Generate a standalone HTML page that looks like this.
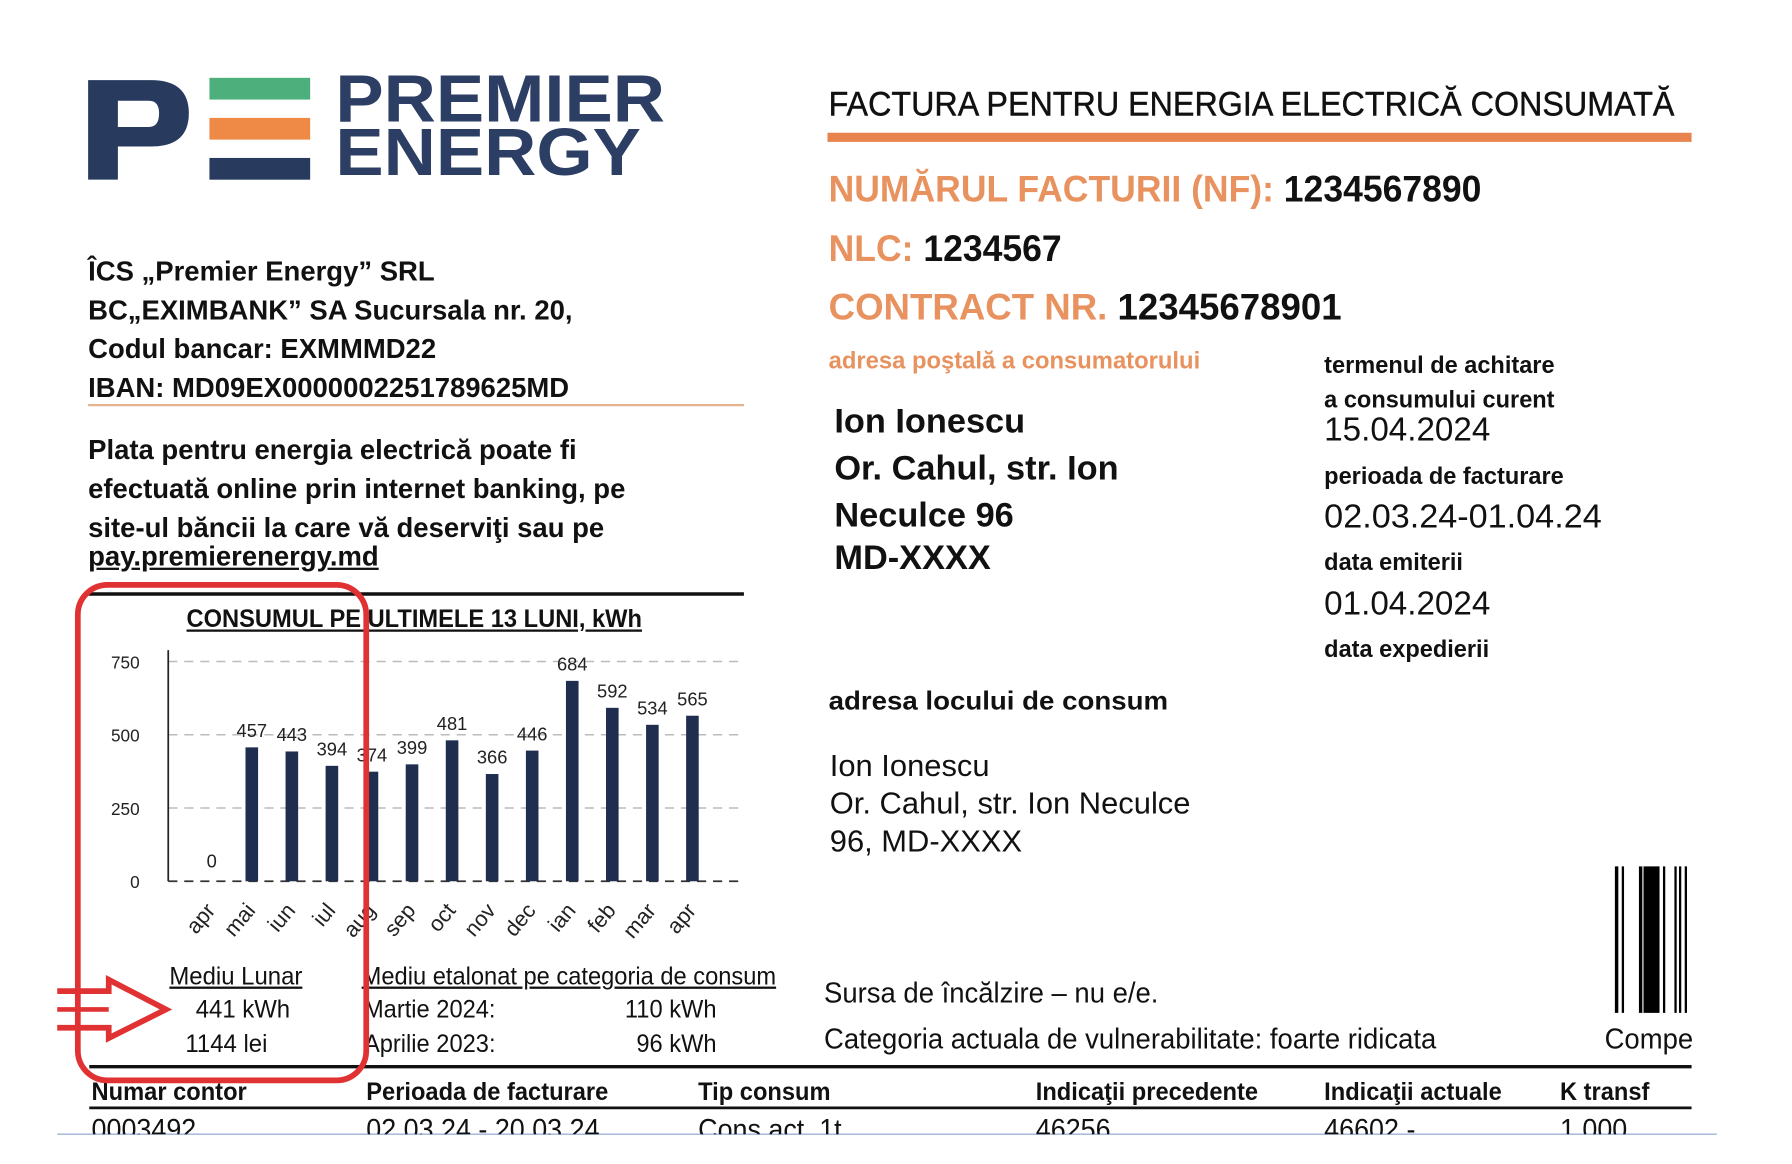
<!DOCTYPE html>
<html><head><meta charset="utf-8">
<style>
html,body{margin:0;padding:0;background:#fff;width:1792px;height:1164px;overflow:hidden}
#wrap{position:absolute;left:0;top:0;width:1566px;height:1017px;transform:scale(1.1445);transform-origin:0 0;font-family:"Liberation Sans",sans-serif;color:#111}
.t{position:absolute;white-space:nowrap;line-height:1;transform-origin:0 50%}
.b{font-weight:bold}
.o{color:#e8925f}
</style></head><body>
<div id="wrap">
<svg style="position:absolute;left:0;top:0" width="1566" height="1017">
 <g>
  <path d="M77 70 H132 Q165 70 165 99 Q165 128 132 128 H103 V157 H77 Z M103 88 V111 H130 Q139 111 139 99 Q139 88 130 88 Z" fill="#283a5e" fill-rule="evenodd"/>
  <rect x="183" y="68" width="88" height="19" fill="#4caf7c"/>
  <rect x="183" y="103" width="88" height="19" fill="#ee8a46"/>
  <rect x="183" y="138" width="88" height="19" fill="#283a5e"/>
 </g>
 <line x1="723" y1="120" x2="1478" y2="120" stroke="#e8834e" stroke-width="8"/>
 <line x1="77" y1="354" x2="650" y2="354" stroke="#e3b48f" stroke-width="2"/>
 <line x1="77" y1="519" x2="650" y2="519" stroke="#111" stroke-width="3"/>
 <line x1="78" y1="932" x2="1478" y2="932" stroke="#111" stroke-width="3"/>
 <line x1="78" y1="968" x2="1478" y2="968" stroke="#111" stroke-width="2.5"/>
 <line x1="50" y1="991" x2="1500" y2="991" stroke="#9fb3d6" stroke-width="1.2"/>
 <g fill="#000">
  <rect x="1411" y="757" width="3" height="128"/><rect x="1417" y="757" width="2" height="128"/>
  <rect x="1432" y="757" width="3" height="128"/><rect x="1436" y="757" width="14" height="128"/>
  <rect x="1453" y="757" width="2" height="128"/><rect x="1463" y="757" width="2" height="128"/>
  <rect x="1467" y="757" width="2" height="128"/><rect x="1472" y="757" width="2" height="128"/>
 </g>
</svg>
<div class="t b" style="left:293px;top:58px;font-size:58px;color:#2c3e63;transform:scaleX(1.09)">PREMIER</div>
<div class="t b" style="left:293px;top:105px;font-size:58px;color:#2c3e63;transform:scaleX(1.09)">ENERGY</div>

<div class="t" style="left:724px;top:77px;font-size:30px;transform:scaleX(.94);-webkit-text-stroke:.4px #111">FACTURA PENTRU ENERGIA ELECTRICĂ CONSUMATĂ</div>
<div class="t b" style="left:724px;top:149px;font-size:32px;transform:scaleX(.97)"><span class="o">NUMĂRUL FACTURII (NF):</span> 1234567890</div>
<div class="t b" style="left:724px;top:201px;font-size:32px;transform:scaleX(.97)"><span class="o">NLC:</span> 1234567</div>
<div class="t b" style="left:724px;top:252px;font-size:32px;transform:scaleX(1.0)"><span class="o">CONTRACT NR.</span> 12345678901</div>
<div class="t b o" style="left:724px;top:305px;font-size:21px;transform:scaleX(.99)">adresa poştală a consumatorului</div>
<div class="t b" style="left:729px;top:350px;font-size:30px;line-height:37px;transform:scaleX(1.0)">Ion Ionescu<br><span style="line-height:45px">Or. Cahul, str. Ion</span><br>Neculce 96<br>MD-XXXX</div>

<div class="t b" style="left:1157px;top:305px;font-size:21px;line-height:30px;transform:scaleX(.98)">termenul de achitare<br>a consumului curent</div>
<div class="t" style="left:1157px;top:362px;font-size:29px;transform:scaleX(1.0)">15.04.2024</div>
<div class="t b" style="left:1157px;top:406px;font-size:21px;transform:scaleX(.98)">perioada de facturare</div>
<div class="t" style="left:1157px;top:438px;font-size:29px;transform:scaleX(1.03)">02.03.24-01.04.24</div>
<div class="t b" style="left:1157px;top:481px;font-size:21px;transform:scaleX(.98)">data emiterii</div>
<div class="t" style="left:1157px;top:514px;font-size:29px;transform:scaleX(1.0)">01.04.2024</div>
<div class="t b" style="left:1157px;top:557px;font-size:21px;transform:scaleX(.98)">data expedierii</div>

<div class="t b" style="left:724px;top:601px;font-size:23px;transform:scaleX(1.05)">adresa locului de consum</div>
<div class="t" style="left:725px;top:653px;font-size:27px;line-height:33px;transform:scaleX(1.0)">Ion Ionescu<br>Or. Cahul, str. Ion Neculce<br>96, MD-XXXX</div>

<div class="t" style="left:720px;top:856px;font-size:25px;transform:scaleX(.96)">Sursa de încălzire – nu e/e.</div>
<div class="t" style="left:720px;top:896px;font-size:25px;transform:scaleX(.96)">Categoria actuala de vulnerabilitate: foarte ridicata</div>
<div class="t" style="left:1402px;top:896px;font-size:25px;transform:scaleX(.96)">Compe</div>

<div class="t b" style="left:77px;top:221px;font-size:24px;line-height:34px;transform:scaleX(1.0)">ÎCS „Premier Energy” SRL<br>BC„EXIMBANK” SA Sucursala nr. 20,<br>Codul bancar: EXMMMD22<br>IBAN: MD09EX0000002251789625MD</div>
<div class="t b" style="left:77px;top:377px;font-size:24px;line-height:34px;transform:scaleX(1.0)">Plata pentru energia electrică poate fi<br>efectuată online prin internet banking, pe<br>site-ul băncii la care vă deserviţi sau pe</div>
<div class="t b" style="left:77px;top:475px;font-size:24px;text-decoration:underline;transform:scaleX(1.0)">pay.premierenergy.md</div>

<div class="t b" style="left:163px;top:530px;font-size:22px;text-decoration:underline;transform:scaleX(.94)">CONSUMUL PE ULTIMELE 13 LUNI, kWh</div>
<svg id="chart" style="position:absolute;left:0;top:0" width="700" height="1017"></svg>

<div class="t" style="left:148px;top:842px;font-size:22px;text-decoration:underline;transform:scaleX(.95)">Mediu Lunar</div>
<div class="t" style="left:171px;top:871px;font-size:22px;transform:scaleX(.95)">441 kWh</div>
<div class="t" style="left:162px;top:901px;font-size:22px;transform:scaleX(.95)">1144 lei</div>
<div class="t" style="left:316px;top:842px;font-size:22px;text-decoration:underline;transform:scaleX(.94)">Mediu etalonat pe categoria de consum</div>
<div class="t" style="left:318px;top:871px;font-size:22px;transform:scaleX(.94)">Martie 2024:</div>
<div class="t" style="left:546px;top:871px;font-size:22px;transform:scaleX(.94)">110 kWh</div>
<div class="t" style="left:318px;top:901px;font-size:22px;transform:scaleX(.94)">Aprilie 2023:</div>
<div class="t" style="left:556px;top:901px;font-size:22px;transform:scaleX(.94)">96 kWh</div>

<div style="position:absolute;left:0;top:975px;width:1566px;height:16px;overflow:hidden">
 <div class="t" style="left:80px;top:0;font-size:25px;transform:scaleX(.94)">0003492</div>
 <div class="t" style="left:320px;top:0;font-size:25px;transform:scaleX(.94)">02.03.24 - 20.03.24</div>
 <div class="t" style="left:610px;top:0;font-size:25px;transform:scaleX(.94)">Cons.act. 1t</div>
 <div class="t" style="left:905px;top:0;font-size:25px;transform:scaleX(.94)">46256</div>
 <div class="t" style="left:1157px;top:0;font-size:25px;transform:scaleX(.94)">46602 -</div>
 <div class="t" style="left:1363px;top:0;font-size:25px;transform:scaleX(.94)">1.000</div>
</div>
<div class="t b" style="left:80px;top:943px;font-size:22px;transform:scaleX(.94)">Numar contor</div>
<div class="t b" style="left:320px;top:943px;font-size:22px;transform:scaleX(.94)">Perioada de facturare</div>
<div class="t b" style="left:610px;top:943px;font-size:22px;transform:scaleX(.94)">Tip consum</div>
<div class="t b" style="left:905px;top:943px;font-size:22px;transform:scaleX(.94)">Indicaţii precedente</div>
<div class="t b" style="left:1157px;top:943px;font-size:22px;transform:scaleX(.94)">Indicaţii actuale</div>
<div class="t b" style="left:1363px;top:943px;font-size:22px;transform:scaleX(.94)">K transf</div>

<svg style="position:absolute;left:0;top:0" width="700" height="1017">
 <rect x="68" y="511" width="252" height="433" rx="26" fill="none" stroke="#e03232" stroke-width="5"/>
 <path d="M50 866 H95 V856 L145 882 L95 907 V898 H50" fill="none" stroke="#e03232" stroke-width="5" stroke-linejoin="miter"/>
 <line x1="50" y1="882" x2="95" y2="882" stroke="#e03232" stroke-width="4"/>
</svg>
</div>
<script>
const months=["apr","mai","iun","iul","aug","sep","oct","nov","dec","ian","feb","mar","apr"];
const values=[0,457,443,394,374,399,481,366,446,684,592,534,565];
const yTicks=[0,250,500,750];
const svg=document.getElementById('chart');
const NS='http://www.w3.org/2000/svg';
const x0=147,x1=645,yZero=770,yTop=578,yMax=750;
const ys=v=>yZero-(v/yMax)*(yZero-yTop);
const xs=i=>185+i*((605-185)/(months.length-1));
function mk(t,a){const e=document.createElementNS(NS,t);for(const k in a)e.setAttribute(k,a[k]);svg.appendChild(e);return e;}
yTicks.forEach(t=>{
 const g=mk('line',{x1:x0,x2:x1,y1:ys(t),y2:ys(t),stroke:t===0?'#333':'#bbb','stroke-width':t===0?1.5:1.3,'stroke-dasharray':'8 6'});
 
 
 const l=mk('text',{x:122,y:ys(t)+6,'text-anchor':'end','font-size':15,'font-family':'Liberation Sans, sans-serif',fill:'#222'});
 l.textContent=t;
 
 
});
const ax=mk('line',{x1:x0,x2:x0,y1:568,y2:yZero,stroke:'#222','stroke-width':1.5});


values.forEach((v,i)=>{
 const b=mk('rect',{x:xs(i)-5.5,y:ys(v),width:11,height:yZero-ys(v),fill:'#1f2d4e'});
 
 
 const t=mk('text',{x:xs(i),y:ys(v)-(v===0?12:9),'text-anchor':'middle','font-size':16,'font-family':'Liberation Sans, sans-serif',fill:'#222'});
 t.textContent=v;
 
 
 const m=mk('text',{x:xs(i)+4,y:796,'text-anchor':'end','font-size':19,'font-family':'Liberation Sans, sans-serif',fill:'#222',transform:`rotate(-50 ${xs(i)+4} 796)`});
 m.textContent=months[i];
 
 
});
</script>
</body></html>
